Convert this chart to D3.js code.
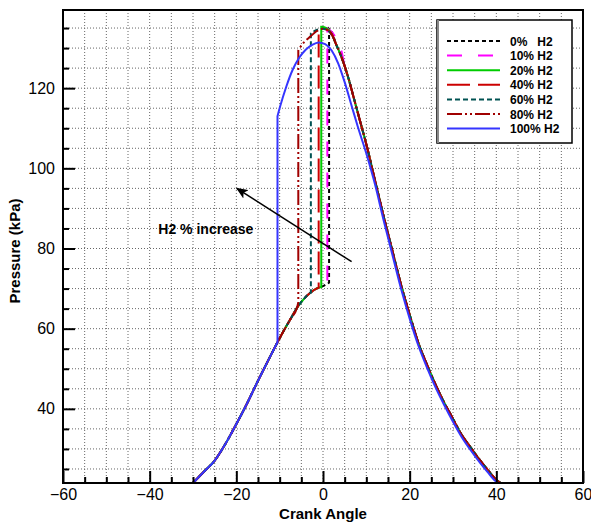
<!DOCTYPE html>
<html>
<head>
<meta charset="utf-8">
<script src="https://cdn.jsdelivr.net/npm/d3@7/dist/d3.min.js"></script>
<style>
body { margin:0; background:#fff; }
svg { display:block; font-family: Arial, "Liberation Sans", sans-serif; }
</style>
</head>
<body>
<div id="chart"></div>
<script>
// ticks
var xTicks = [-60, -40, -20, 0, 20, 40, 60];
var yTicks = [40, 60, 80, 100, 120];
var names = ["0%   H2", "10% H2", "20% H2", "40% H2", "60% H2", "80% H2", "100% H2"];

// shared compression curve (crank angle, kPa)
var compression = [[-30,21.5],[-27.5,24.3],[-25,27.1],[-22.5,31.3],[-20,36.2],[-17.5,41.4],[-15,47.0],
  [-12.5,52.4],[-10.5,56.6],[-9,59.6],[-7.5,62.4],[-6,65.2],[-4.5,67.3],[-3,68.9],[-1.5,70.0],[0,70.6],[1.5,71.0]];

// shared expansion curve
var expansion = [[3,131],[4,128.5],[5,125.5],[6,122],[7,118],[8,114],[9,110],[10,106],[12,97],[14,88],
  [16,79.5],[18,71],[20,63.5],[22,56.5],[24,51],[26,46],[28,41.5],[30,37.5],[32,33.5],[34,30.5],
  [36,27.5],[38,24.8],[40,22.3],[41,21.5]];

// combustion part of each case (first two points = jump at ignition)
var h0 = [[1.4,71.5],[1.4,134.8],[2.2,133.6]];
var h10 = [[1.0,71.0],[1.0,134.9],[2.2,133.8],[3.3,131.8],[4.4,128.6]];
var h20 = [[-0.4,70.4],[-0.4,135.3],[0.8,135.0],[2,133.5]];
var h40 = [[-1,70.2],[-1,134.1],[0,134.8],[1.2,134.4],[2.2,133.2]];
var h60 = [[-2.8,69.0],[-2.8,133.7],[-1.5,134.5],[0,134.8],[1.3,134.2],[2.3,132.8]];
var h80 = [[-5.7,66.6],[-5.7,129.5],[-4.5,131.3],[-3,132.8],[-1.5,134.2],[0,134.8],[1.3,134.3],[2.3,132.8]];
var h100 = [[-10.5,56.6],[-10.5,113],[-9.9,115.4],[-8.5,120.3],[-7,124.6],[-5.5,127.6],[-4,129.6],
  [-2.5,130.8],[-1,131.4],[0.5,131],[2,129.4],[3.5,126.2],[5,121.5],[6.5,116],[8,110.5],[10,103.7],
  [12,96],[14,87],[16,78.5],[18,70],[20,62.5],[22,55.8],[24,50.3],[26,45.3],[28,40.9],[30,36.8],
  [32,33],[34,29.8],[36,26.9],[38,24.2],[40,21.8],[40.4,21.5]];

var arrowFrom = [6.6, 76.7];
var arrowTo = [-19.9, 95.0];

var styles = [
  {color:"#000000", dash:"4,3"},
  {color:"#ff00ff", dash:"15,16"},
  {color:"#00cc00", dash:null},
  {color:"#cc0000", dash:"23,8"},
  {color:"#005252", dash:"5,3"},
  {color:"#a00000", dash:"15,3,2,3,2,3"},
  {color:"#3535ff", dash:null}
];

// before ignition / after ignition pieces
function build(peak) {
  var first = peak[0][0], last = peak[peak.length-1][0];
  var before = compression.filter(function(p){ return p[0] < first; }).concat([peak[0]]);
  var after = peak.slice(1).concat(expansion.filter(function(p){ return p[0] > last; }));
  return [before, after];
}
var series = [h0, h10, h20, h40, h60, h80, h100].map(build);

var W = 591, H = 522;
var m = {left:63, top:10, right:8, bottom:39};
var w = W - m.left - m.right, h = H - m.top - m.bottom;

var svg = d3.select("#chart").append("svg").attr("width", W).attr("height", H);
var g = svg.append("g").attr("transform", "translate(" + m.left + "," + m.top + ")");

var x = d3.scaleLinear().domain([-60, 60]).range([0, w]);
var y = d3.scaleLinear().domain([21.5, 139.5]).range([h, 0]);

var xMinor = d3.range(-55, 60, 5);
var yMinor = d3.range(25, 140, 5);

// grid
g.selectAll("line.gx").data(xMinor).enter().append("line")
  .attr("x1", function(d){return x(d);}).attr("x2", function(d){return x(d);})
  .attr("y1", 0).attr("y2", h)
  .style("stroke", "#666").style("stroke-width", 1).style("stroke-dasharray", "1,2");
g.selectAll("line.gy").data(yMinor).enter().append("line")
  .attr("y1", function(d){return y(d);}).attr("y2", function(d){return y(d);})
  .attr("x1", 0).attr("x2", w)
  .style("stroke", "#666").style("stroke-width", 1).style("stroke-dasharray", "1,2");

// curves
g.append("clipPath").attr("id", "clip").append("rect").attr("width", w).attr("height", h);
var line = d3.line().curve(d3.curveMonotoneX)
  .x(function(d){return x(d[0]);}).y(function(d){return y(d[1]);});
g.append("g").attr("clip-path", "url(#clip)")
  .selectAll("path").data(series).enter().append("path")
  .attr("d", function(d){ return line(d[0]) + line(d[1]).replace(/^M/, "L"); })
  .style("fill", "none")
  .style("stroke", function(d,i){return styles[i].color;})
  .style("stroke-width", 2)
  .style("stroke-dasharray", function(d,i){return styles[i].dash;});

// axes
g.append("g").attr("transform", "translate(0," + h + ")")
  .call(d3.axisBottom(x).tickValues(xTicks).tickSize(-12).tickPadding(6).tickFormat(d3.format("d")));
g.append("g").attr("transform", "translate(0," + h + ")")
  .call(d3.axisBottom(x).tickValues(xMinor.filter(function(d){return d % 20 != 0;})).tickSize(-6).tickFormat(""));
g.append("g")
  .call(d3.axisLeft(y).tickValues(yTicks).tickSize(-12).tickPadding(8).tickFormat(d3.format("d")));
g.append("g")
  .call(d3.axisLeft(y).tickValues(yMinor.filter(function(d){return d % 20 != 0;})).tickSize(-6).tickFormat(""));
g.selectAll(".domain").remove();
g.selectAll(".tick line").style("stroke", "#000").style("stroke-width", 2);
g.selectAll(".tick text").style("font-size", "16px").style("fill", "#000")
  .style("font-family", "Arial, 'Liberation Sans', sans-serif");

// frame
g.append("rect").attr("width", w).attr("height", h)
  .style("fill", "none").style("stroke", "#000").style("stroke-width", 2);

// legend
var leg = svg.append("g").attr("transform", "translate(437,20)");
leg.append("rect").attr("width", 135).attr("height", 123)
  .style("fill", "#fff").style("stroke", "#000").style("stroke-width", 1.5);
leg.append("line").attr("x1", 1).attr("x2", 1).attr("y1", 0).attr("y2", 123)
  .style("stroke", "#888").style("stroke-width", 2);
var rows = leg.selectAll("g.row").data(names).enter().append("g")
  .attr("transform", function(d,i){return "translate(0," + (21 + i*14.6) + ")";});
rows.append("line").attr("x1", 10).attr("x2", 63)
  .style("stroke", function(d,i){return styles[i].color;})
  .style("stroke-width", 2)
  .style("stroke-dasharray", function(d,i){return styles[i].dash;});
rows.append("text").attr("x", 73).attr("y", 4.5)
  .style("font-size", "12px").style("font-weight", "bold").style("white-space", "pre")
  .text(function(d){return d;});

// annotation arrow
svg.append("defs").append("marker").attr("id", "arrow")
  .attr("viewBox", "0 0 12 10").attr("refX", 11).attr("refY", 5)
  .attr("markerWidth", 12).attr("markerHeight", 10).attr("markerUnits", "userSpaceOnUse")
  .attr("orient", "auto")
  .append("path").attr("d", "M0,0 L12,5 L0,10 L3,5 Z").style("fill", "#000");
g.append("line")
  .attr("x1", x(arrowFrom[0])).attr("y1", y(arrowFrom[1]))
  .attr("x2", x(arrowTo[0])).attr("y2", y(arrowTo[1]))
  .style("stroke", "#000").style("stroke-width", 1.5)
  .attr("marker-end", "url(#arrow)");
g.append("text").attr("x", x(-38)).attr("y", y(83.6))
  .style("font-size", "14px").style("font-weight", "bold")
  .text("H2 % increase");

// axis titles
svg.append("text").attr("x", m.left + w/2).attr("y", 519)
  .attr("text-anchor", "middle").style("font-size", "15px").style("font-weight", "bold")
  .text("Crank Angle");
svg.append("text").attr("transform", "translate(20,251) rotate(-90)")
  .attr("text-anchor", "middle").style("font-size", "15px").style("font-weight", "bold")
  .text("Pressure (kPa)");
</script>
</body>
</html>
